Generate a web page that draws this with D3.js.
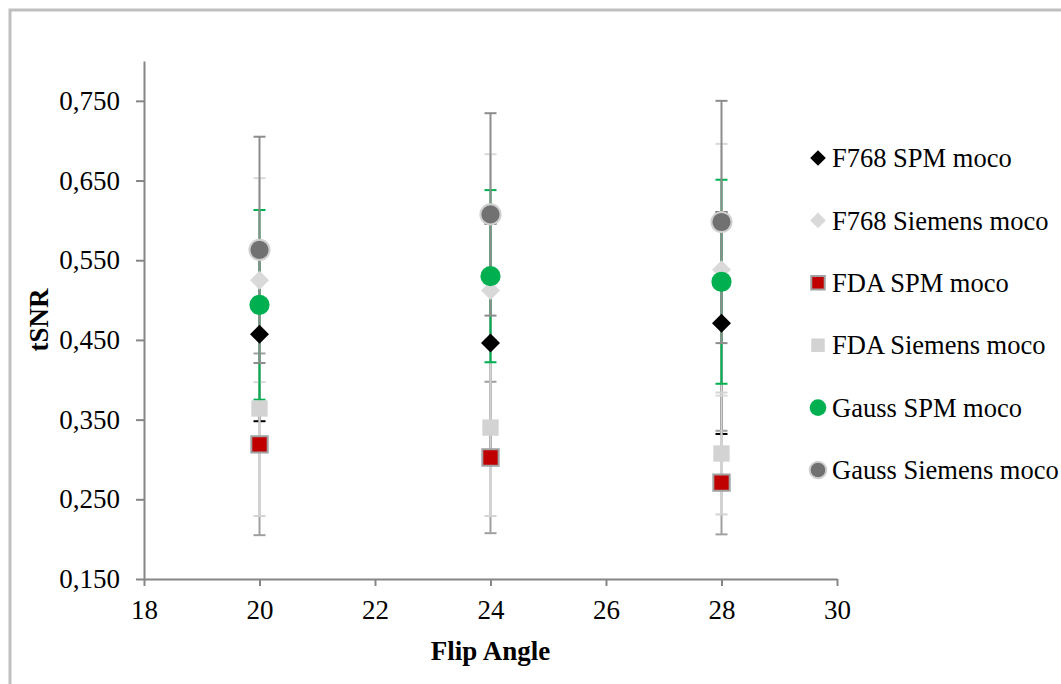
<!DOCTYPE html>
<html>
<head>
<meta charset="utf-8">
<script src="https://cdn.jsdelivr.net/npm/d3@7"></script>
<style>
  body { margin: 0; background: #fff; }
  text { font-family: "Liberation Serif", "Times New Roman", serif; fill: #000; }
</style>
</head>
<body>
<div id="chart"></div>
<script>
// data
const flipAngles = [20, 24, 28];
const seriesNames = ["F768 SPM moco", "F768 Siemens moco", "FDA SPM moco", "FDA Siemens moco", "Gauss SPM moco", "Gauss Siemens moco"];
const f768Spm = [0.457, 0.446, 0.471];
const f768Siemens = [0.525, 0.512, 0.538];
const fdaSpm = [0.319, 0.3025, 0.271];
const fdaSiemens = [0.364, 0.340, 0.3075];
const gaussSpm = [0.494, 0.530, 0.523];
const gaussSiemens = [0.563, 0.6075, 0.598];
// error bar half widths
const f768SpmErr = [0.109, 0.150, 0.139];
const f768SiemensErr = [0.128, 0.171, 0.158];
const fdaSpmErr = [0.114, 0.095, 0.065];
const fdaSiemensErr = [0.135, 0.111, 0.0765];
const gaussSpmErr = [0.119, 0.108, 0.128];
const gaussSiemensErr = [0.142, 0.127, 0.152];
const xTicks = [18, 20, 22, 24, 26, 28, 30];
const yTicks = [0.15, 0.25, 0.35, 0.45, 0.55, 0.65, 0.75];

const width = 1061, height = 684;
const margin = { top: 61, right: 224, bottom: 103, left: 144 };

const styles = [
  { shape: d3.symbolDiamond2, fill: "#000000", stroke: "none", err: "#000000" },
  { shape: d3.symbolDiamond2, fill: "#d9d9d9", stroke: "none", err: "#d9d9d9" },
  { shape: d3.symbolSquare2, fill: "#c00000", stroke: "#a0a0a0", err: "#a0a0a0" },
  { shape: d3.symbolSquare2, fill: "#d3d3d3", stroke: "none", err: "#d3d3d3" },
  { shape: d3.symbolCircle, fill: "#00b050", stroke: "none", err: "#00b050" },
  { shape: d3.symbolCircle, fill: "#717171", stroke: "#d0d0d0", err: "#8c8c8c" }
];

const values = [f768Spm, f768Siemens, fdaSpm, fdaSiemens, gaussSpm, gaussSiemens];
const errors = [f768SpmErr, f768SiemensErr, fdaSpmErr, fdaSiemensErr, gaussSpmErr, gaussSiemensErr];

const series = seriesNames.map((name, i) => ({
  name: name,
  style: styles[i],
  points: flipAngles.map((a, j) => ({ x: a, y: values[i][j], e: errors[i][j] }))
}));

const svg = d3.select("#chart")
  .append("svg")
  .attr("width", width)
  .attr("height", height);

// outer chart frame
svg.append("rect")
  .attr("x", 10).attr("y", 10)
  .attr("width", 1100).attr("height", 760)
  .attr("fill", "none")
  .attr("stroke", "#bfbfbf")
  .attr("stroke-width", 3);

const x = d3.scaleLinear().domain([18, 30]).range([margin.left, width - margin.right]);
const y = d3.scaleLinear().domain([0.15, 0.8]).range([height - margin.bottom - 2, margin.top]);

const fmt = d => d3.format(".3f")(d).replace(".", ",");

const xAxis = svg.append("g")
  .attr("transform", "translate(0," + y(0.15) + ")")
  .call(d3.axisBottom(x).tickValues(xTicks).tickSize(7).tickSizeOuter(0).tickPadding(14));

const yAxis = svg.append("g")
  .attr("transform", "translate(" + x(18) + ",0)")
  .call(d3.axisLeft(y).tickValues(yTicks).tickFormat(fmt).tickSize(8).tickSizeOuter(0).tickPadding(16));

[xAxis, yAxis].forEach(g => {
  g.select(".domain").attr("stroke", "#868686").attr("stroke-width", 2);
  g.selectAll(".tick line").attr("stroke", "#868686").attr("stroke-width", 2);
  g.selectAll(".tick text").style("font-family", "Liberation Serif").style("font-size", "27px").attr("fill", "#000");
});

// axis titles
svg.append("text")
  .attr("x", x(24))
  .attr("y", 660)
  .attr("text-anchor", "middle")
  .style("font-size", "27px")
  .style("font-weight", "bold")
  .text("Flip Angle");

svg.append("text")
  .attr("transform", "translate(48," + y(0.475) + ") rotate(-90)")
  .attr("text-anchor", "middle")
  .style("font-size", "27px")
  .style("font-weight", "bold")
  .text("tSNR");

// error bars first, in series order
const capHalf = 6;
series.forEach(s => {
  const g = svg.append("g").attr("stroke", s.style.err).attr("stroke-width", 2);
  s.points.forEach(p => {
    g.append("line")
      .attr("x1", x(p.x)).attr("x2", x(p.x))
      .attr("y1", y(p.y - p.e)).attr("y2", y(p.y + p.e));
    [p.y - p.e, p.y + p.e].forEach(v => {
      g.append("line")
        .attr("x1", x(p.x) - capHalf).attr("x2", x(p.x) + capHalf)
        .attr("y1", y(v)).attr("y2", y(v));
    });
  });
});

// markers on top
const markerSize = { diamond: 230, square: 340, circle: 320 };
function sizeFor(shape, scale) {
  const base = shape === d3.symbolCircle ? markerSize.circle : (shape === d3.symbolSquare2 ? markerSize.square : markerSize.diamond);
  return base * scale;
}

series.forEach(s => {
  svg.append("g")
    .selectAll("path")
    .data(s.points)
    .enter()
    .append("path")
    .attr("transform", d => "translate(" + x(d.x) + "," + y(d.y) + ")")
    .attr("d", d3.symbol().type(s.style.shape).size(sizeFor(s.style.shape, 1)))
    .attr("fill", s.style.fill)
    .attr("stroke", s.style.stroke)
    .attr("stroke-width", 2);
});

// legend
const legendY = d3.scaleLinear().domain([0, seriesNames.length - 1]).range([158, 470]);
const legend = svg.selectAll(".legend")
  .data(series)
  .enter()
  .append("g")
  .attr("class", "legend")
  .attr("transform", (d, i) => "translate(818," + legendY(i) + ")");

legend.append("path")
  .attr("d", d => d3.symbol().type(d.style.shape).size(sizeFor(d.style.shape, 0.68))())
  .attr("fill", d => d.style.fill)
  .attr("stroke", d => d.style.stroke)
  .attr("stroke-width", 2);

legend.append("text")
  .attr("x", 14)
  .attr("dy", "0.35em")
  .style("font-size", "26.5px")
  .text(d => d.name);
</script>
</body>
</html>
